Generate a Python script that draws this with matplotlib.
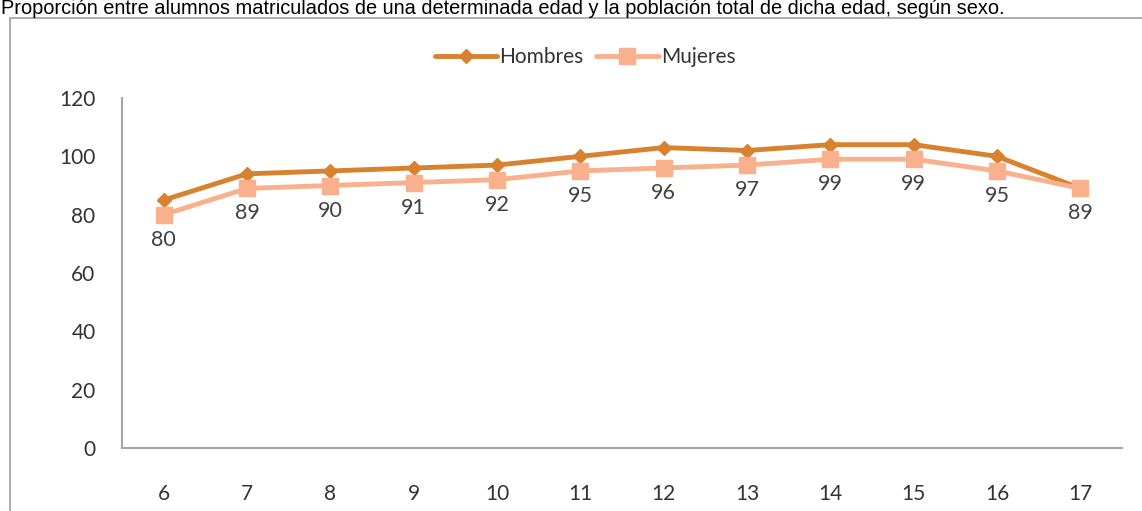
import numpy as np
import matplotlib.pyplot as plt
from matplotlib.patches import Rectangle

edades = [6, 7, 8, 9, 10, 11, 12, 13, 14, 15, 16, 17]
hombres = [85, 94, 95, 96, 97, 100, 103, 102, 104, 104, 100, 89]
mujeres = [80, 89, 90, 91, 92, 95, 96, 97, 99, 99, 95, 89]
yticks = [0, 20, 40, 60, 80, 100, 120]

titulo = ("Proporción entre alumnos matriculados de una determinada edad y la "
          "población total de dicha edad, según sexo.")

c_hom = '#D8812F'
c_muj = '#F8B18C'

fig = plt.figure(figsize=(11.42, 5.11), dpi=100)

# outer chart frame (cut by the image border)
fig.patches.append(Rectangle((10 / 1142, -0.1), 1.2, (511 - 18) / 511 + 0.1,
                             transform=fig.transFigure, fill=False,
                             edgecolor='#A0A0A0', linewidth=1.2))

fig.text(0.001, 1 - 8 / 511, titulo, ha='left', va='center',
         fontsize=14.4, family='Liberation Sans', color='#000000')

ax = fig.add_axes([122 / 1142, 1 - 448 / 511, 1000 / 1142, 350 / 511])
x = np.arange(len(edades))

ax.plot(x, hombres, color=c_hom, linewidth=3.5, marker='D', markersize=7,
        label='Hombres', solid_capstyle='round')
ax.plot(x, mujeres, color=c_muj, linewidth=3.5, marker='s', markersize=11,
        label='Mujeres', solid_capstyle='round')

for xi, v in zip(x, mujeres):
    ax.annotate(str(v), (xi, v), xytext=(0, -25), textcoords='offset pixels',
                ha='center', va='center', fontsize=15.5, family='Lato',
                color='#404040')

ax.set_xlim(-0.5, len(edades) - 0.5)
ax.set_ylim(0, 120)
ax.set_yticks(yticks)
ax.set_xticks(x)
ax.set_xticklabels([str(e) for e in edades])
ax.tick_params(axis='both', length=0, labelsize=15, colors='#333333')
ax.tick_params(axis='x', pad=26)
ax.tick_params(axis='y', pad=19)
for lab in ax.get_xticklabels() + ax.get_yticklabels():
    lab.set_family('Lato')

for s in ['top', 'right']:
    ax.spines[s].set_visible(False)
for s in ['left', 'bottom']:
    ax.spines[s].set_color('#A6A6A6')
    ax.spines[s].set_linewidth(1.5)

leg = fig.legend(loc='center', bbox_to_anchor=(585 / 1142, 1 - 57 / 511),
                 ncol=2, frameon=False, prop={'family': 'Lato', 'size': 15},
                 handlelength=3.0, columnspacing=0.6, handletextpad=0.1)
for t in leg.get_texts():
    t.set_color('#333333')

fig.savefig('out.png', dpi=100)
